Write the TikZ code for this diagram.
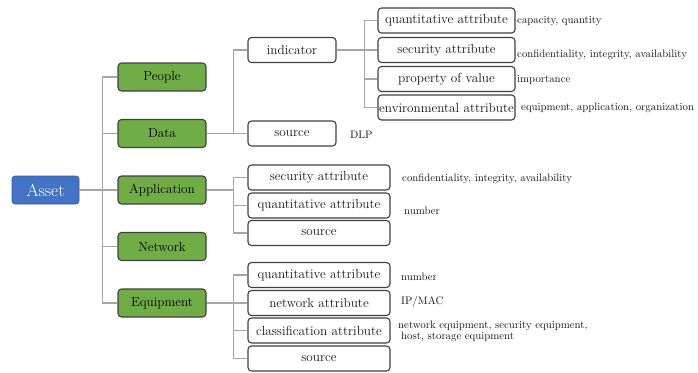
\documentclass[tikz,border=0pt]{standalone}
\definecolor{assetblue}{HTML}{4472C4}
\definecolor{catgreen}{HTML}{70AD47}
\definecolor{linkgray}{HTML}{A6A6A6}
\definecolor{boxline}{HTML}{404040}
\definecolor{inktext}{HTML}{151515}
\tikzset{
  link/.style={draw=linkgray, line width=1.3pt},
  rootbox/.style={draw=assetblue!80!black, line width=0.6pt, fill=assetblue, rounded corners=3pt,
    minimum width=67pt, minimum height=28pt, inner sep=0pt, text=white,
    font=\fontsize{17.5}{20}\selectfont},
  catbox/.style={draw=boxline, line width=1.1pt, fill=catgreen, rounded corners=3.5pt,
    minimum width=88pt, minimum height=28pt, inner sep=0pt, text=black,
    font=\fontsize{13.2}{15}\selectfont},
  attrbox/.style={draw=boxline, line width=1.1pt, fill=white, rounded corners=3.5pt,
    minimum height=25pt, inner sep=0pt, text=inktext,
    font=\fontsize{13.2}{15}\selectfont},
  note/.style={anchor=west, inner sep=0pt, text=inktext,
    font=\fontsize{10.8}{12.5}\selectfont, align=left}
}
\begin{document}
\begin{tikzpicture}[x=1pt,y=-1pt]
\useasboundingbox (0,0) rectangle (698,372);

% root and categories
\node[rootbox] (asset) at (45.5,190) {Asset};
\node[catbox] (people) at (162,77) {People};
\node[catbox] (data) at (162,133.5) {Data};
\node[catbox] (application) at (162,190) {Application};
\node[catbox] (network) at (162,246.5) {Network};
\node[catbox] (equipment) at (162,303) {Equipment};

% data branch
\node[attrbox, minimum width=88pt] (indicator) at (292,50) {indicator};
\node[attrbox, minimum width=88pt] (dsource) at (292,133.5) {source};
\node[note] (dlp) at (350,134.5) {DLP};

\node[attrbox, minimum width=137pt] (qa1) at (446.5,20.5) {quantitative attribute};
\node[attrbox, minimum width=137pt] (sa1) at (446.5,50) {security attribute};
\node[attrbox, minimum width=137pt] (pa1) at (446.5,79) {property of value};
\node[attrbox, minimum width=137pt] (ea1) at (446.5,107.5) {environmental attribute};
\node[note] (qa1n) at (517,21) {capacity, quantity};
\node[note] (sa1n) at (517,55) {confidentiality, integrity, availability};
\node[note] (pa1n) at (517,80) {importance};
\node[note] (ea1n) at (521,108) {equipment, application, organization};

% application branch
\node[attrbox, minimum width=142pt] (sa2) at (319,177.5) {security attribute};
\node[attrbox, minimum width=142pt] (qa2) at (319,205.5) {quantitative attribute};
\node[attrbox, minimum width=142pt] (src2) at (319,233) {source};
\node[note] (sa2n) at (402,178.5) {confidentiality, integrity, availability};
\node[note] (qa2n) at (404,211) {number};

% equipment branch
\node[attrbox, minimum width=142pt] (qa3) at (319,275) {quantitative attribute};
\node[attrbox, minimum width=142pt] (na3) at (319,303) {network attribute};
\node[attrbox, minimum width=142pt] (ca3) at (319,330.5) {classification attribute};
\node[attrbox, minimum width=142pt] (src3) at (319,358.5) {source};
\node[note] (qa3n) at (401,277) {number};
\node[note] (na3n) at (401,302) {IP/MAC};
\node[note] (ca3n) at (398,331) {network equipment, security equipment,\\[-1.5pt]\hspace*{3pt}host, storage equipment};

% connectors: root to categories
\draw[link] (asset) -- (application);
\draw[link] (people.west) -- ++(-15,0) |- (equipment.west);
\draw[link] (data.west) -- ++(-15,0);
\draw[link] (network.west) -- ++(-15,0);

% data
\draw[link] (data) -- (dsource);
\draw[link] (indicator.west) -- ++(-14,0) |- (dsource.west);
\draw[link] (indicator) -- (sa1);
\draw[link] (qa1.west) -- ++(-13,0) |- (ea1.west);
\draw[link] (pa1.west) -- ++(-13,0);

% application
\coordinate (appbus) at (234,190);
\draw[link] (application.east) -- (appbus);
\draw[link] (sa2.west) -- ++(-14,0) |- (src2.west);
\draw[link] (qa2.west) -- ++(-14,0);

% equipment
\draw[link] (equipment) -- (na3);
\draw[link] (qa3.west) -- ++(-14,0) |- (src3.west);
\draw[link] (ca3.west) -- ++(-14,0);
\end{tikzpicture}
\end{document}
